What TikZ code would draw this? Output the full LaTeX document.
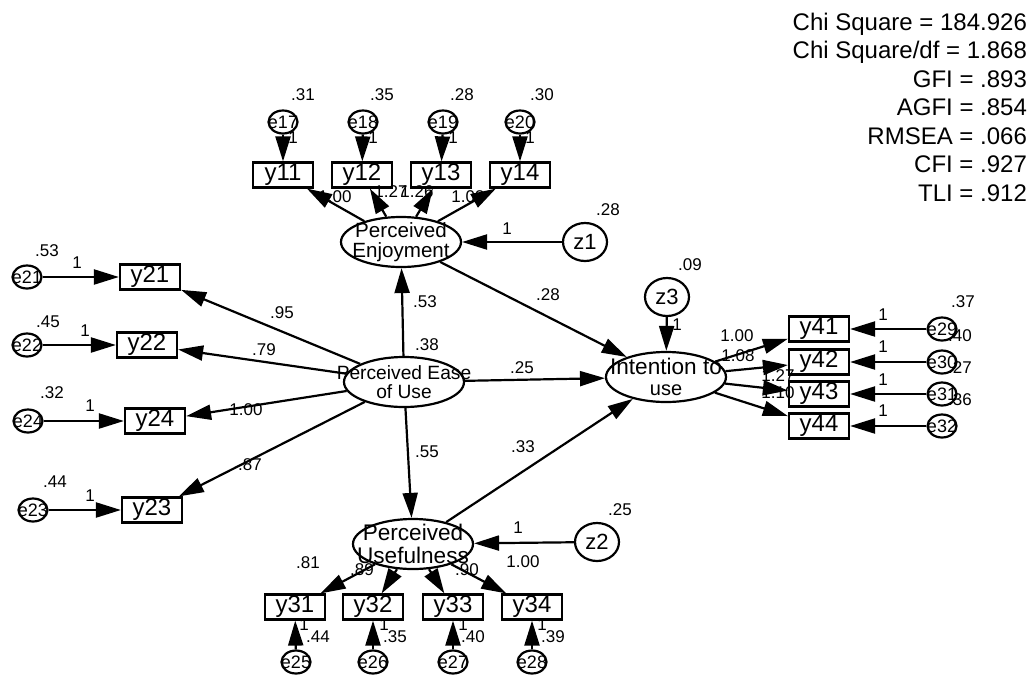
\documentclass[tikz,border=0pt]{standalone}
\usepackage{fontspec}
\setmainfont{Liberation Sans}
\usetikzlibrary{arrows.meta,shapes.geometric}

\begin{document}
\begin{tikzpicture}[
  x=0.5pt, y=-0.5pt, line width=1.1pt, >={Triangle[length=12.5pt, width=7.5pt]},
  obs/.style={draw, minimum width=30pt, minimum height=12.5pt, inner sep=0pt,
              font=\fontsize{12}{12}\selectfont},
  lat/.style={draw, ellipse, minimum width=60pt, minimum height=25pt, inner sep=0pt},
  ltxt/.style={inner sep=0pt, align=center},
  err/.style={draw, ellipse, minimum width=14.5pt, minimum height=11.5pt, inner sep=0pt,
              label={[inner sep=0pt, font=\fontsize{9}{10}\selectfont]center:#1}},
  dist/.style={draw, ellipse, minimum width=22pt, minimum height=19pt, inner sep=0pt,
               font=\fontsize{11}{12}\selectfont},
  num/.style={font=\fontsize{8.5}{10}\selectfont, inner sep=0pt},
]
\useasboundingbox[fill=white] (0,0) rectangle (1034,681);

% latent variables
\node[lat, label={[ltxt, font=\fontsize{10.3}{10}\selectfont]center:Perceived\\Enjoyment}] (PE) at (401,242) {};
\node[lat, label={[ltxt, font=\fontsize{9.6}{9.5}\selectfont]center:Perceived Ease\\of Use}] (PEOU) at (404,382) {};
\node[lat, label={[ltxt, font=\fontsize{11.3}{11.5}\selectfont]center:Perceived\\Usefulness}] (PU) at (413,544) {};
\node[lat, label={[ltxt, font=\fontsize{11.3}{10.5}\selectfont]center:Intention to\\{\fontsize{10}{10}\selectfont use}}] (IU) at (666,377) {};
\node[dist] (z1) at (585,242) {z1};
\node[dist] (z2) at (597,542) {z2};
\node[dist] (z3) at (667,297) {z3};

% indicators
\node[obs] (y11) at (283,175) {y11}; \node[obs] (y12) at (362,175) {y12};
\node[obs] (y13) at (441,175) {y13}; \node[obs] (y14) at (520,175) {y14};
\node[obs] (y21) at (150,277) {y21}; \node[obs] (y22) at (147,345) {y22};
\node[obs] (y24) at (155,421) {y24}; \node[obs] (y23) at (152,510) {y23};
\node[obs] (y31) at (295,607) {y31}; \node[obs] (y32) at (373,607) {y32};
\node[obs] (y33) at (453,607) {y33}; \node[obs] (y34) at (532,607) {y34};
\node[obs] (y41) at (819,329) {y41}; \node[obs] (y42) at (819,362) {y42};
\node[obs] (y43) at (819,394) {y43}; \node[obs] (y44) at (819,426) {y44};

% errors
\node[err=e17] (e17) at (283,122) {}; \node[err=e18] (e18) at (363,122) {};
\node[err=e19] (e19) at (443,122) {}; \node[err=e20] (e20) at (520,122) {};
\node[err=e21] (e21) at (27,277) {};  \node[err=e22] (e22) at (27,345) {};
\node[err=e24] (e24) at (28,421) {};  \node[err=e23] (e23) at (33,510) {};
\node[err=e25] (e25) at (296,662) {}; \node[err=e26] (e26) at (373,662) {};
\node[err=e27] (e27) at (453,662) {}; \node[err=e28] (e28) at (532,662) {};
\node[err=e29] (e29) at (942,329) {}; \node[err=e30] (e30) at (942,362) {};
\node[err=e31] (e31) at (942,394) {}; \node[err=e32] (e32) at (942,426) {};

% paths
\draw[->] (PEOU) -- (PE); \draw[->] (PEOU) -- (PU); \draw[->] (PEOU) -- (IU);
\draw[->] (PE) -- (IU);   \draw[->] (PU) -- (IU);
\draw[->] (z1) -- (PE);   \draw[->] (z2) -- (PU);   \draw[->] (z3) -- (IU);
\draw[->] (PE) -- (y11); \draw[->] (PE) -- (y12); \draw[->] (PE) -- (y13); \draw[->] (PE) -- (y14);
\draw[->] (PEOU) -- (y21); \draw[->] (PEOU) -- (y22); \draw[->] (PEOU) -- (y24); \draw[->] (PEOU) -- (y23);
\draw[->] (PU) -- (y31); \draw[->] (PU) -- (y32); \draw[->] (PU) -- (y33); \draw[->] (PU) -- (y34);
\draw[->] (IU) -- (y41); \draw[->] (IU) -- (y42); \draw[->] (IU) -- (y43); \draw[->] (IU) -- (y44);
\draw[->] (e17) -- (y11); \draw[->] (e18) -- (y12); \draw[->] (e19) -- (y13); \draw[->] (e20) -- (y14);
\draw[->] (e21) -- (y21); \draw[->] (e22) -- (y22); \draw[->] (e24) -- (y24); \draw[->] (e23) -- (y23);
\draw[->] (e25) -- (y31); \draw[->] (e26) -- (y32); \draw[->] (e27) -- (y33); \draw[->] (e28) -- (y34);
\draw[->] (e29) -- (y41); \draw[->] (e30) -- (y42); \draw[->] (e31) -- (y43); \draw[->] (e32) -- (y44);

% estimates
\node[num] (r38) at (427,345) {.38}; \node[num] (b53) at (425,302) {.53};
\node[num] (b28) at (548,295) {.28}; \node[num] (b25) at (522,368) {.25};
\node[num] (b55) at (427,452) {.55}; \node[num] (b33) at (523,447) {.33};
\node[num] (vz1) at (608,210) {.28}; \node[num] (fz1) at (507,229) {1};
\node[num] (vz2) at (620,510) {.25}; \node[num] (fz2) at (518,528) {1};
\node[num] (vz3) at (690,265) {.09}; \node[num] (fz3) at (677,325) {1};
% enjoyment block
\node[num] (v17) at (303,95) {.31}; \node[num] (v18) at (382,95) {.35};
\node[num] (v19) at (462,95) {.28}; \node[num] (v20) at (542,95) {.30};
\node[num] (f17) at (293,138) {1};  \node[num] (f18) at (373,138) {1};
\node[num] (f19) at (453,138) {1};  \node[num] (f20) at (530,138) {1};
\node[num] (l11) at (335,197) {1.00}; \node[num] (l12) at (391,192) {1.27};
\node[num] (l13) at (417,192) {1.26}; \node[num] (l14) at (468,197) {1.03};
% ease of use block
\node[num] (v21) at (47,251) {.53};  \node[num] (v22) at (48,322) {.45};
\node[num] (v24) at (52,393) {.32};  \node[num] (v23) at (55,482) {.44};
\node[num] (f21) at (77,263) {1};    \node[num] (f22) at (85,331) {1};
\node[num] (f24) at (90,406) {1};    \node[num] (f23) at (90,496) {1};
\node[num] (l21) at (282,313) {.95}; \node[num] (l22) at (264,350) {.79};
\node[num] (l24) at (246,410) {1.00}; \node[num] (l23) at (250,465) {.87};
% usefulness block
\node[num] (v25) at (318,637) {.44}; \node[num] (v26) at (395,637) {.35};
\node[num] (v27) at (473,637) {.40}; \node[num] (v28) at (553,637) {.39};
\node[num] (f25) at (304,625) {1};   \node[num] (f26) at (384,625) {1};
\node[num] (f27) at (463,625) {1};   \node[num] (f28) at (542,625) {1};
\node[num] (l31) at (308,563) {.81}; \node[num] (l32) at (362,570) {.89};
\node[num] (l33) at (467,570) {.90}; \node[num] (l34) at (523,562) {1.00};
% intention block
\node[num] (v29) at (963,302) {.37}; \node[num] (v30) at (960,336) {.40};
\node[num] (v31) at (960,368) {.27}; \node[num] (v32) at (960,400) {.36};
\node[num] (f29) at (883,315) {1};   \node[num] (f30) at (883,347) {1};
\node[num] (f31) at (883,380) {1};   \node[num] (f32) at (883,411) {1};
\node[num] (l41) at (737,336) {1.00}; \node[num] (l42) at (738,356) {1.08};
\node[num] (l43) at (778,376) {1.27}; \node[num] (l44) at (778,393) {1.10};

% fit indices
\node[anchor=north east, align=right, inner sep=0pt, font=\fontsize{12}{14.25}\selectfont] (fit) at (1028,12)
  {Chi Square = 184.926\\Chi Square/df = 1.868\\GFI = .893\\AGFI = .854\\RMSEA = .066\\CFI = .927\\TLI = .912};
\end{tikzpicture}
\end{document}
